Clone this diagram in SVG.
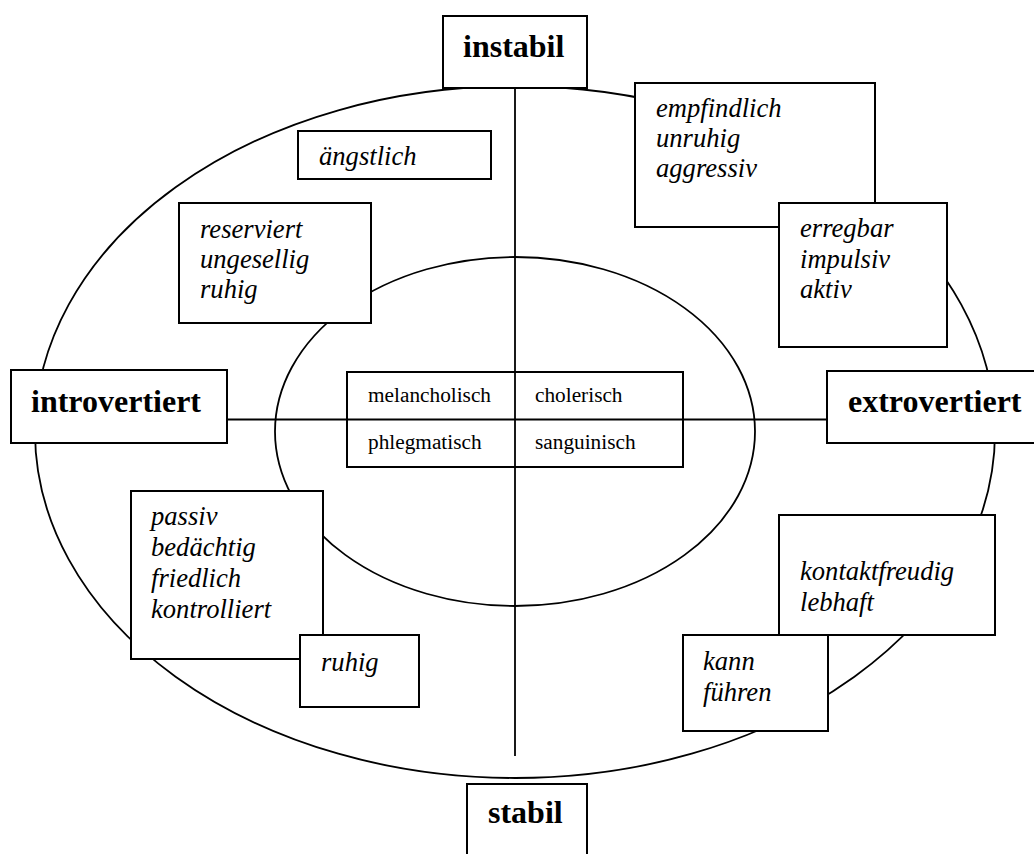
<svg xmlns="http://www.w3.org/2000/svg" width="1034" height="854" viewBox="0 0 1034 854">
<style>
.bg{fill:#fff}
.ln{fill:none;stroke:#000;stroke-width:1.8}
.bx{fill:#fff;stroke:#000;stroke-width:2}
.b{font-family:"Liberation Serif",serif;font-weight:bold;font-size:32px;fill:#000}
.i{font-family:"Liberation Serif",serif;font-style:italic;font-size:26.6px;fill:#000}
.r{font-family:"Liberation Serif",serif;font-size:21.3px;fill:#000}
</style>
<rect class="bg" x="0" y="0" width="1034" height="854"/>
<g id="connectors">
<ellipse class="ln" cx="515" cy="432" rx="480" ry="346"/>
<ellipse class="ln" cx="515" cy="431.5" rx="240" ry="174.5"/>
<line class="ln" x1="515" y1="88" x2="515" y2="756"/>
<line class="ln" x1="227" y1="419.5" x2="827" y2="419.5"/>
</g>
<g id="instabil"><rect class="bx" x="443" y="16" width="144" height="72"/><text class="b" x="463" y="57">instabil</text></g>
<g id="stabil"><rect class="bx" x="467" y="784" width="120" height="80"/><text class="b" x="488" y="823">stabil</text></g>
<g id="introvertiert"><rect class="bx" x="11" y="370" width="216" height="73"/><text class="b" x="31" y="412">introvertiert</text></g>
<g id="extrovertiert"><rect class="bx" x="827" y="371" width="220" height="72"/><text class="b" x="848" y="412">extrovertiert</text></g>
<g id="center">
<rect class="bx" x="347" y="372" width="336" height="95"/>
<line class="ln" x1="347" y1="419.5" x2="683" y2="419.5"/>
<line class="ln" x1="515" y1="372" x2="515" y2="467"/>
<text class="r" x="368" y="402">melancholisch</text>
<text class="r" x="535" y="402">cholerisch</text>
<text class="r" x="368" y="449">phlegmatisch</text>
<text class="r" x="535" y="449">sanguinisch</text>
</g>
<g id="aengstlich"><rect class="bx" x="298" y="131" width="193" height="48"/><text class="i" x="319" y="165">ängstlich</text></g>
<g id="reserviert"><rect class="bx" x="179" y="203" width="192" height="120"/><text class="i" x="200" y="238">reserviert</text><text class="i" x="200" y="268">ungesellig</text><text class="i" x="200" y="298">ruhig</text></g>
<g id="empfindlich"><rect class="bx" x="635" y="83" width="240" height="144"/><text class="i" x="656" y="117">empfindlich</text><text class="i" x="656" y="147">unruhig</text><text class="i" x="656" y="177">aggressiv</text></g>
<g id="erregbar"><rect class="bx" x="779" y="203" width="168" height="144"/><text class="i" x="800" y="237">erregbar</text><text class="i" x="800" y="268">impulsiv</text><text class="i" x="800" y="298">aktiv</text></g>
<g id="passiv"><rect class="bx" x="131" y="491" width="192" height="168"/><text class="i" x="151" y="525">passiv</text><text class="i" x="151" y="556">bedächtig</text><text class="i" x="151" y="587">friedlich</text><text class="i" x="151" y="618">kontrolliert</text></g>
<g id="ruhig"><rect class="bx" x="300" y="635" width="119" height="72"/><text class="i" x="321" y="671">ruhig</text></g>
<g id="kontaktfreudig"><rect class="bx" x="779" y="515" width="216" height="120"/><text class="i" x="800" y="580">kontaktfreudig</text><text class="i" x="800" y="611">lebhaft</text></g>
<g id="kann"><rect class="bx" x="683" y="635" width="145" height="96"/><text class="i" x="703" y="670">kann</text><text class="i" x="703" y="701">führen</text></g>
</svg>
